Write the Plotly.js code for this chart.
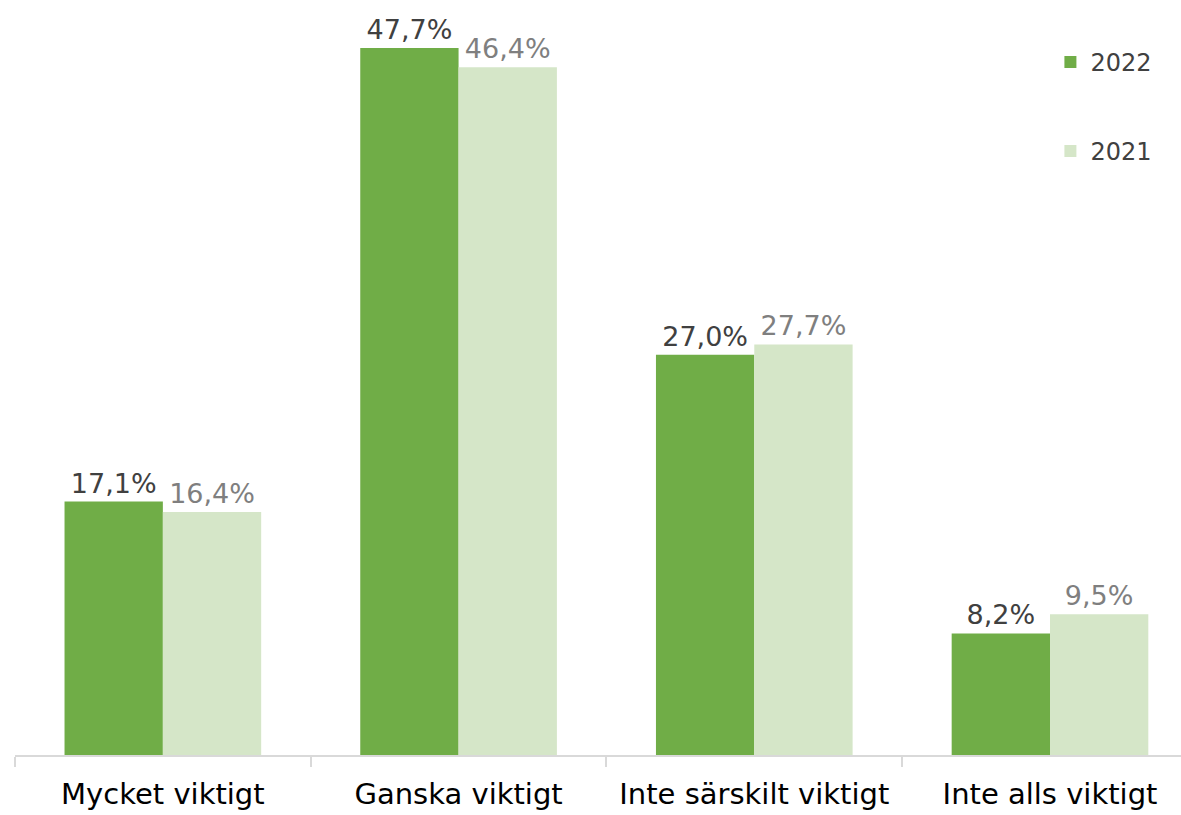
<!DOCTYPE html>
<html><head><meta charset="utf-8">
<script src="https://cdn.plot.ly/plotly-3.0.1.min.js"></script>
<style>html,body{margin:0;padding:0;background:#fff;}#chart{width:1181px;height:815px;}</style>
</head><body><div id="chart"></div>
<script>
const categories = ["Mycket viktigt", "Ganska viktigt", "Inte särskilt viktigt", "Inte alls viktigt"];
const values2022 = [17.1, 47.7, 27.0, 8.2];
const values2021 = [16.4, 46.4, 27.7, 9.5];
const seriesNames = ["2022", "2021"];
const fmt = v => v.toFixed(1).replace(".", ",") + "%";
const FONT = "DejaVu Sans";

const traces = [
  {type:"bar", name:seriesNames[0], x:categories, y:values2022, legendgroup:"a",
   marker:{color:"#70AD47"}, text:values2022.map(fmt), textposition:"outside",
   cliponaxis:false, textfont:{family:FONT, size:27, color:"#404040"}, hoverinfo:"none"},
  {type:"bar", name:seriesNames[1], x:categories, y:values2021, legendgroup:"b",
   marker:{color:"#D5E6C8"}, text:values2021.map(fmt), textposition:"outside",
   cliponaxis:false, textfont:{family:FONT, size:27, color:"#7F7F7F"}, hoverinfo:"none"}
];
const layout = {
  width:1181, height:815,
  margin:{l:15, r:0, t:10, b:60},
  paper_bgcolor:"#fff", plot_bgcolor:"#fff",
  barmode:"group", bargap:0.335, bargroupgap:0,
  font:{family:FONT, color:"#000"},
  xaxis:{range:[-0.5, 3.443], showline:true, linecolor:"#D9D9D9", linewidth:2,
         ticks:"outside", tickson:"boundaries", ticklen:10, tickcolor:"#D9D9D9", tickwidth:2,
         ticklabelstandoff:12,
         tickfont:{family:FONT, size:29, color:"#000"}, showgrid:false, zeroline:false, fixedrange:true},
  yaxis:{range:[0, 50.27], visible:false, showgrid:false, zeroline:false, fixedrange:true},
  showlegend:true,
  legend:{x:0.888, y:0.96, xanchor:"left", yanchor:"top", font:{family:FONT, size:24, color:"#404040"},
          tracegroupgap:55, traceorder:"grouped", bgcolor:"rgba(0,0,0,0)"}
};
Plotly.newPlot("chart", traces, layout, {displayModeBar:false, staticPlot:true});
</script></body></html>
